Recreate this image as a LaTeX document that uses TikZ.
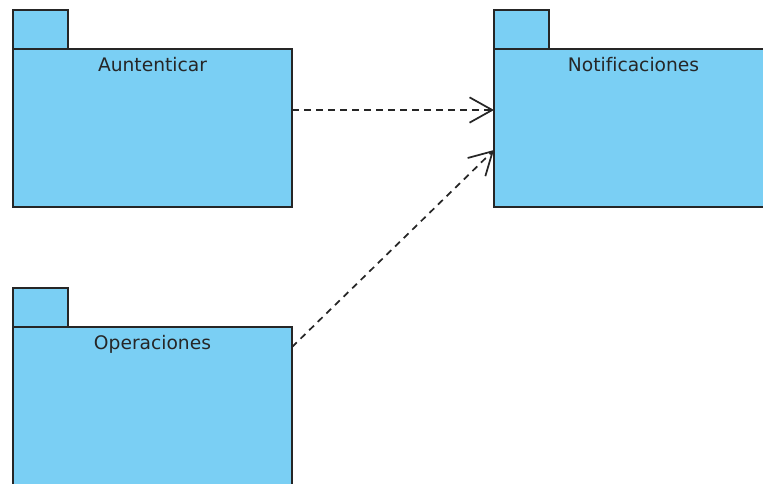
\documentclass[tikz,border=0pt]{standalone}
\usepackage{fontspec}
\setmainfont[Ligatures=NoCommon]{DejaVu Sans}
\usetikzlibrary{arrows.meta,positioning}
\definecolor{pkgblue}{RGB}{122,207,244}
\definecolor{pkgline}{RGB}{38,38,38}
\tikzset{
  pkg/.style={draw=pkgline,fill=pkgblue,line width=1.3pt,minimum width=209.25pt,minimum height=118.5pt,inner sep=0pt,outer sep=0pt},
  pkgtab/.style={draw=pkgline,fill=pkgblue,line width=1.3pt,minimum width=41.25pt,minimum height=29.25pt,inner sep=0pt,outer sep=0pt,anchor=south west},
  pkgname/.style={anchor=base,inner sep=0pt,text=black!85,font=\fontsize{14}{16}\selectfont},
  dep/.style={draw=pkgline,line width=1.3pt,dash pattern=on 5pt off 4pt,-{Straight Barb[length=17pt,width=19pt,line width=1.3pt]}}
}

\begin{document}
\begin{tikzpicture}[x=0.75pt,y=-0.75pt]
\useasboundingbox (0,0) rectangle (763,483);
\clip (0,0) rectangle (763,483);

\node[pkgtab] (auttab) at (13,49) {};
\node[pkg] (aut) at (152.5,128) {};
\node[pkgname] (autname) at ([yshift=-16.5pt]aut.north) {Auntenticar};

\node[pkgtab] (notetab) at (494,49) {};
\node[pkg, anchor=west] (note) at (494,128) {};
\node[pkgname] (notename) at ([yshift=-16.5pt]note.north) {Notificaciones};

\node[pkgtab] (opetab) at (13,327) {};
\node[pkg] (ope) at (152.5,406) {};
\node[pkgname] (opename) at ([yshift=-16.5pt]ope.north) {Operaciones};

\draw[dep] (aut.east |- 0,110) -- (note.west |- 0,110);
\draw[dep] (ope.east |- 0,347) -- (note.west |- 0,150);
\end{tikzpicture}
\end{document}
